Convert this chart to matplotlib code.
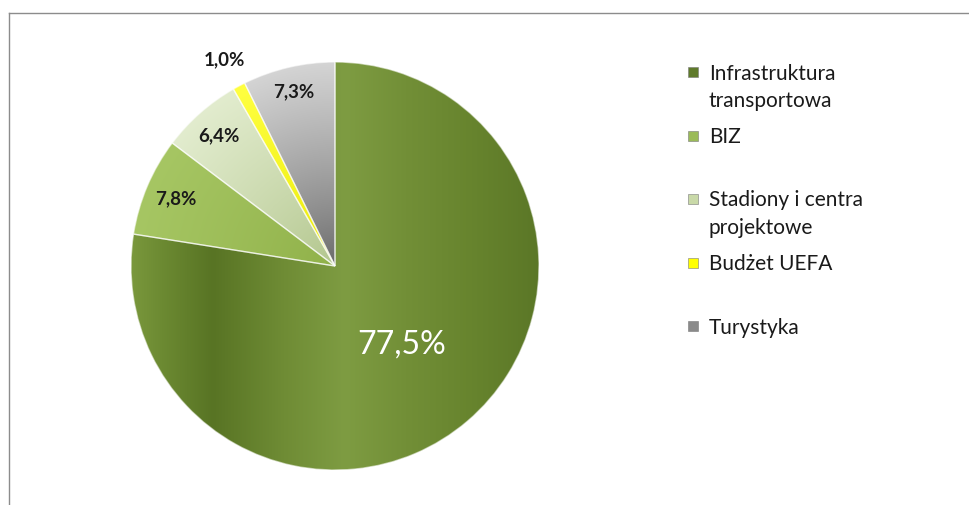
import textwrap
import numpy as np
import matplotlib
matplotlib.use("Agg")
import matplotlib.pyplot as plt
from matplotlib.colors import to_rgb
from matplotlib.lines import Line2D

# ---- data ----
categories = ["Infrastruktura transportowa", "BIZ", "Stadiony i centra projektowe",
              "Budżet UEFA", "Turystyka"]
values = [77.5, 7.8, 6.4, 1.0, 7.3]
value_labels = ["77,5%", "7,8%", "6,4%", "1,0%", "7,3%"]

# ---- style ----
base_colors = ["#77933C", "#9BBB59", "#D7E4BD", "#FFFF00", "#A6A6A6"]
legend_colors = ["#5f7a2b", "#9BBB59", "#C9D9A8", "#FFFF00", "#8a8a8a"]
radial_inner = [None, "#8fb048", "#b0c48a", "#e8e800", "#666666"]
radial_outer = [None, "#a6c663", "#e2ecce", "#ffff40", "#d4d4d4"]
big_stops_u = [-1.0, -0.85, -0.6, -0.25, 0.05, 0.35, 0.7, 1.0]
big_stops_c = ["#7a983c", "#6c8a32", "#587424", "#6f8c35", "#7e9c42", "#728f37", "#66832d", "#5b7727"]
label_dist = [0.5, 0.85, 0.86, 1.15, 0.88]
label_colors = ["white", "#1a1a1a", "#1a1a1a", "#1a1a1a", "#1a1a1a"]
label_sizes = [23, 13.5, 13.5, 13.5, 13.5]
label_weights = ["normal", "bold", "bold", "bold", "bold"]
FONT = ["Lato", "DejaVu Sans"]

W, H = 970, 506
fig = plt.figure(figsize=(W / 100, H / 100), dpi=100)
fig.patch.set_facecolor("white")

cx, cy, R = 335, 267, 204
ax = fig.add_axes([(cx - R) / W, (H - cy - R) / H, 2 * R / W, 2 * R / H])
ax.axis("off")

wedges, _ = ax.pie(values, colors=base_colors, startangle=90, counterclock=False,
                   radius=1.0, wedgeprops=dict(edgecolor=(1, 1, 1, 0.55), linewidth=1.0))

# gradient shading clipped to each wedge
n = 500
xs = np.linspace(-1, 1, n)
X, Y = np.meshgrid(xs, xs[::-1])
Rr = np.sqrt(X ** 2 + Y ** 2).clip(0, 1)
for i, w in enumerate(wedges):
    img = np.zeros((n, n, 3))
    if radial_inner[i] is None:
        cols = np.array([to_rgb(c) for c in big_stops_c])
        for k in range(3):
            img[..., k] = np.interp(X, big_stops_u, cols[:, k])
    else:
        ci = np.array(to_rgb(radial_inner[i]))
        co = np.array(to_rgb(radial_outer[i]))
        t = Rr ** 0.8
        for k in range(3):
            img[..., k] = ci[k] + (co[k] - ci[k]) * t
    im = ax.imshow(img, extent=[-1, 1, -1, 1], zorder=w.get_zorder() + 0.1,
                   interpolation="bilinear")
    im.set_clip_path(w)

for w in wedges:
    w.set_zorder(5)
    w.set_facecolor("none")

ax.set_xlim(-1, 1)
ax.set_ylim(-1, 1)
ax.set_aspect("equal")

# labels
for i, w in enumerate(wedges):
    ang = np.deg2rad((w.theta1 + w.theta2) / 2)
    d = label_dist[i]
    ax.text(d * np.cos(ang), d * np.sin(ang), value_labels[i], ha="center", va="center",
            color=label_colors[i], fontsize=label_sizes[i], fontweight=label_weights[i],
            family=FONT, zorder=10, clip_on=False)

# legend (manual)
ly0, dy, line_gap = 73, 63.5, 27.5
for i, cat in enumerate(categories):
    y = ly0 + i * dy
    fig.patches.append(plt.Rectangle(((693 - 5) / W, (H - y - 5) / H), 10 / W, 10 / H,
                                     transform=fig.transFigure, facecolor=legend_colors[i],
                                     edgecolor="#7a7a7a", linewidth=0.4))
    for j, line in enumerate(textwrap.wrap(cat, 17)):
        fig.text(709 / W, (H - (y + 6.5 + j * line_gap)) / H, line, ha="left", va="baseline",
                 fontsize=15, family=FONT, color="#1a1a1a",
                 transform=fig.transFigure)

# frame lines (top and left)
fig.lines.append(Line2D([9.5 / W, 1], [(H - 14) / H] * 2, transform=fig.transFigure,
                        color="#8c8c8c", linewidth=1.0))
fig.lines.append(Line2D([9.5 / W] * 2, [0, (H - 14) / H], transform=fig.transFigure,
                        color="#8c8c8c", linewidth=1.0))

fig.savefig("out.png", dpi=100, facecolor="white")
